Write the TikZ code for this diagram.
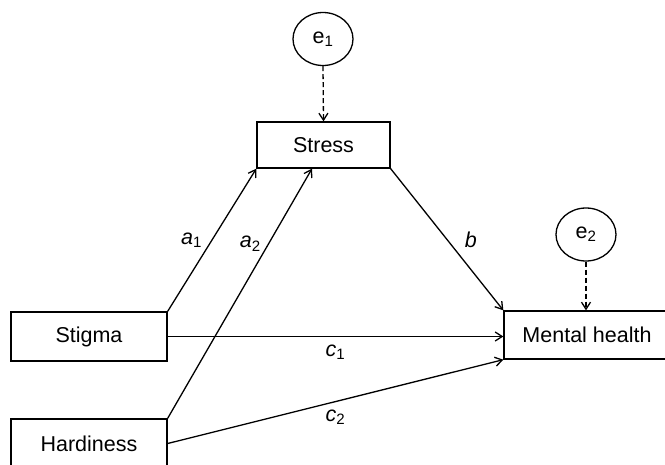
\documentclass[tikz,border=0pt]{standalone}
\usepackage{fontspec}
\setmainfont{Liberation Sans}
\usepackage{tikz}
\usetikzlibrary{arrows.meta}
\usetikzlibrary{shapes.geometric}
\usetikzlibrary{calc}
\tikzset{>={Straight Barb[length=7pt,width=9pt]}}
\tikzset{
    varbox/.style={draw, line width=1.3pt, inner sep=0pt, font=\fontsize{21.5}{25}\selectfont},
    errnode/.style={draw, ellipse, line width=1.3pt, inner sep=0pt, minimum width=60pt, minimum height=53pt, font=\fontsize{21.5}{25}\selectfont},
    path/.style={line width=1.3pt, ->},
    errpath/.style={line width=1.3pt, ->, dashed, dash pattern=on 5pt off 3pt},
    coef/.style={font=\fontsize{21.5}{25}\selectfont}
}

\begin{document}
\begin{tikzpicture}[x=1pt, y=-1pt]
            \useasboundingbox (0, 0) rectangle (665, 464);
            \node[varbox, minimum width=133pt, minimum height=46pt] (stress) at (323.5, 145) {Stress};
            \node[varbox, minimum width=156pt, minimum height=49pt] (stigma) at (89, 336.5) {Stigma};
            \node[varbox, minimum width=156pt, minimum height=49pt] (hardiness) at (89, 443.5) {Hardiness};
            \node[varbox, minimum width=166pt, minimum height=48pt] (mental) at (587, 335) {Mental health};
            \node[errnode] (e1) at (323, 39) {e\textsubscript{1}};
            \node[errnode] (e2) at (586, 234.5) {e\textsubscript{2}};
            \draw[errpath] (e1.south) -- (stress.north);
            \draw[errpath] (e2.south) -- (mental.north -| e2.south);
            \draw[path] (stigma.north east) -- node[coef, midway, left=6pt] {\textit{a}\textsubscript{1}} (stress.south west);
            \draw[path] (hardiness.north east) -- node[coef, pos=0.7, left=4pt] {\textit{a}\textsubscript{2}} ([xshift=-11.5pt]stress.south);
            \draw[path] (stress.south east) -- node[coef, midway, right=14pt] {\textit{b}} (mental.north west);
            \draw[path] (stigma.east) -- node[coef, midway, below=4pt] {\textit{c}\textsubscript{1}} (stigma.east -| mental.west);
            \draw[path] (hardiness.east) -- node[coef, midway, below=4pt] {\textit{c}\textsubscript{2}} (mental.south west);
        \end{tikzpicture}
\end{document}
